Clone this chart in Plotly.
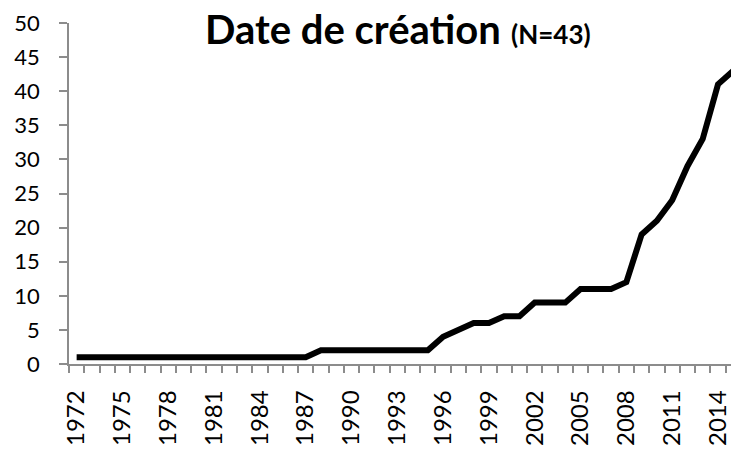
import plotly.graph_objects as go

years = list(range(1972, 2016))
counts = [1, 1, 1, 1, 1, 1, 1, 1, 1, 1, 1, 1, 1, 1, 1, 1,   # 1972-1987
          2, 2, 2, 2, 2, 2, 2, 2,                           # 1988-1995
          4, 5, 6, 6, 7, 7, 9, 9, 9, 11, 11, 11, 12,        # 1996-2008
          19, 21, 24, 29, 33, 41, 43]                       # 2009-2015
tick_years = list(range(1972, 2015, 3))
y_ticks = list(range(0, 51, 5))

FONT = "Lato"
AXIS_GREY = "#8c8c8c"

L, R, T, B = 69, 0, 23, 85
PW, PH = 731 - L - R, 449 - T - B

fig = go.Figure()
fig.add_trace(go.Scatter(
    x=years, y=counts, mode="lines",
    line=dict(color="black", width=6),
    hoverinfo="skip", showlegend=False,
))

fig.update_layout(
    width=731, height=449,
    margin=dict(l=L, r=R, t=T, b=B, autoexpand=False),
    paper_bgcolor="white", plot_bgcolor="white",
    font=dict(family=FONT, color="black"),
    annotations=[dict(
        text="<b>Date de création</b> <b><span style='font-size:26px'>(N=43)</span></b>",
        xref="paper", yref="paper",
        x=(398 - L) / PW, y=1 + (T - 29) / PH,
        xanchor="center", yanchor="middle",
        showarrow=False, font=dict(family=FONT, size=40, color="black"),
    )],
)

fig.update_xaxes(
    automargin=False,
    range=[1971.5, 1971.5 + PW / 15.27],
    tickmode="array", tickvals=tick_years, ticktext=[str(y) for y in tick_years],
    tickangle=-90, ticks="", tickfont=dict(family=FONT, size=24, color="black"),
    ticklabeloverflow="allow",
    showline=True, linecolor=AXIS_GREY, linewidth=1.5,
    showgrid=False, zeroline=False,
    minor=dict(tickmode="linear", tick0=1971.5, dtick=1, ticks="outside",
               ticklen=7, tickcolor=AXIS_GREY, tickwidth=1.5, showgrid=False),
    ticklabelstandoff=15,
)
fig.update_yaxes(
    automargin=False,
    range=[0, 50], tickmode="array", tickvals=y_ticks,
    ticks="outside", ticklen=8, tickcolor=AXIS_GREY, tickwidth=1.5,
    tickfont=dict(family=FONT, size=22, color="black"),
    showline=True, linecolor=AXIS_GREY, linewidth=1.5,
    showgrid=False, zeroline=False, ticklabelstandoff=15,
)

fig.write_html(
    "out.html",
    config={"displayModeBar": False},
    post_script="document.body.style.margin='0';document.body.style.padding='0';",
)
